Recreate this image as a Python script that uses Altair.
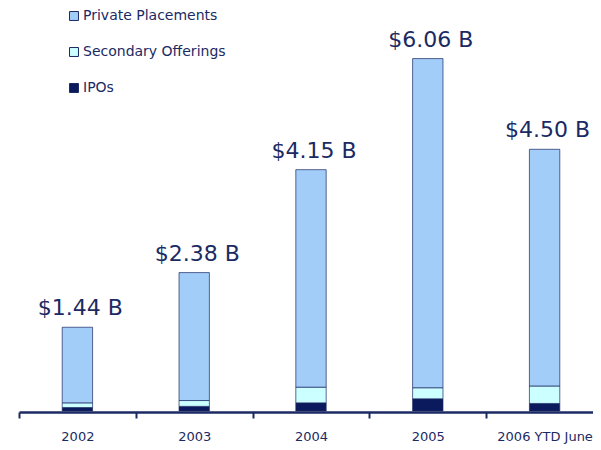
import altair as alt
import pandas as pd

years = ["2002", "2003", "2004", "2005", "2006 YTD June"]
totals = [1.44, 2.38, 4.15, 6.06, 4.50]
ipos = [0.06, 0.08, 0.14, 0.21, 0.13]
secondary = [0.08, 0.10, 0.27, 0.19, 0.30]
labels = ["$1.44 B", "$2.38 B", "$4.15 B", "$6.06 B", "$4.50 B"]
series = ["Private Placements", "Secondary Offerings", "IPOs"]
colors = ["#a3cdf9", "#ccffff", "#0b1a5c"]

rows = []
for y, t, i, s in zip(years, totals, ipos, secondary):
    rows.append({"year": y, "series": "IPOs", "value": i, "ord": 0})
    rows.append({"year": y, "series": "Secondary Offerings", "value": s, "ord": 1})
    rows.append({"year": y, "series": "Private Placements", "value": round(t - i - s, 2), "ord": 2})
df = pd.DataFrame(rows)
lab = pd.DataFrame({"year": years, "total": totals, "label": labels})

navy = "#1b2a63"

xscale = alt.Scale(domain=years, range=[0, 584], paddingInner=0.74, paddingOuter=0.37)
xaxis = alt.Axis(labelAngle=0, labelColor=navy, labelFont="DejaVu Sans",
                 labelFontSize=13, domainColor=navy, domainWidth=2.5,
                 ticks=True, tickColor=navy, tickSize=6, tickWidth=2,
                 tickOffset=-58.4, labelOffset=58.4, labelPadding=12, offset=1)
yscale = alt.Scale(domain=[0, 6.5], nice=False)

bars = alt.Chart(df).mark_bar(stroke=navy, strokeWidth=1, strokeOpacity=0.7).encode(
    x=alt.X("year:N", sort=years, title=None, scale=xscale, axis=xaxis),
    y=alt.Y("value:Q", stack="zero", scale=yscale, axis=None),
    color=alt.Color("series:N", scale=alt.Scale(domain=series, range=colors),
                    legend=alt.Legend(title=None, orient="none", legendX=48, legendY=-24,
                                      symbolType="square", symbolSize=80,
                                      symbolStrokeColor=navy, symbolStrokeWidth=1,
                                      labelFont="DejaVu Sans", labelFontSize=14,
                                      labelColor=navy, rowPadding=22, labelOffset=2)),
    order=alt.Order("ord:Q"),
)

text = alt.Chart(lab).mark_text(baseline="bottom", dy=-7, dx=3, fontSize=22,
                                font="DejaVu Sans", color=navy).encode(
    x=alt.X("year:N", sort=years, title=None, scale=xscale, axis=xaxis),
    y=alt.Y("total:Q", scale=yscale, axis=None),
    text="label:N",
)

chart = alt.layer(bars, text).properties(
    width=574, height=378,
    autosize=alt.AutoSizeParams(type="none"),
    padding={"left": 11, "top": 25, "right": 0, "bottom": 40},
).configure_view(stroke=None)

chart.save("out.html", embed_options={"renderer": "svg", "actions": False})
